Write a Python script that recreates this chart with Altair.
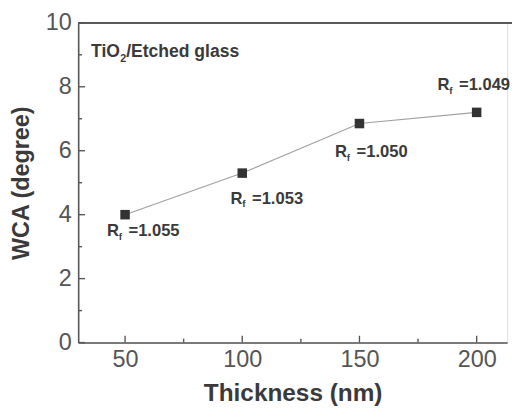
import altair as alt
import pandas as pd

# ---- data ----
thickness = [50, 100, 150, 200]
wca = [4.0, 5.3, 6.85, 7.2]
rf_values = ["=1.055", "=1.053", "=1.050", "=1.049"]
label_x = [42.3, 95.0, 139.6, 183.3]
label_y = [3.49, 4.5, 5.96, 8.04]
x_ticks = [50, 100, 150, 200]
x_minor = [75, 125, 175]
y_ticks = [0, 2, 4, 6, 8, 10]
y_minor = [1, 3, 5, 7, 9]
inset_x = [35.5]
inset_y = [9.08]

W, H = 440, 328
FONT = "Liberation Sans"
AX = "#555555"
TXT = "#3a3a3a"

df = pd.DataFrame({"t": thickness, "w": wca})
lab = pd.DataFrame({"x": label_x, "y": label_y, "v": rf_values})
inset = pd.DataFrame({"x": inset_x, "y": inset_y})

xs = alt.Scale(domain=[30, 213], nice=False, zero=False)
ys = alt.Scale(domain=[0, 10], nice=False)

xax = alt.Axis(values=x_ticks, ticks=False, grid=False, domainColor=AX, domainWidth=1.6,
               labelFont=FONT, labelFontSize=24, labelColor=AX, labelPadding=6,
               title="Thickness (nm)", titleFont=FONT, titleFontSize=25, titleFontWeight="bold",
               titleColor=TXT, titlePadding=9)
yax = alt.Axis(values=y_ticks, ticks=False, grid=False, domainColor=AX, domainWidth=1.6,
               labelFont=FONT, labelFontSize=24, labelColor=AX, labelPadding=7,
               title="WCA (degree)", titleFont=FONT, titleFontSize=24, titleFontWeight="bold",
               titleColor=TXT, titlePadding=12)

base = alt.Chart(df)
line = base.mark_line(color="#a0a0a0", strokeWidth=1.1).encode(
    x=alt.X("t:Q", scale=xs, axis=xax), y=alt.Y("w:Q", scale=ys, axis=yax))
pts = base.mark_square(color="#333333", size=95, opacity=1).encode(
    x=alt.X("t:Q", scale=xs), y=alt.Y("w:Q", scale=ys))

# inward ticks
xt = alt.Chart(pd.DataFrame({"t": x_ticks})).mark_rule(color=AX, strokeWidth=1.4).encode(
    x=alt.X("t:Q", scale=xs), y=alt.value(H), y2=alt.value(H - 7))
xm = alt.Chart(pd.DataFrame({"t": x_minor})).mark_rule(color=AX, strokeWidth=1.4).encode(
    x=alt.X("t:Q", scale=xs), y=alt.value(H), y2=alt.value(H - 4))
yt = alt.Chart(pd.DataFrame({"v": y_ticks})).mark_rule(color=AX, strokeWidth=1.4).encode(
    y=alt.Y("v:Q", scale=ys), x=alt.value(0), x2=alt.value(7))
ym = alt.Chart(pd.DataFrame({"v": y_minor})).mark_rule(color=AX, strokeWidth=1.4).encode(
    y=alt.Y("v:Q", scale=ys), x=alt.value(0), x2=alt.value(4))
top = alt.Chart(df).mark_rule(color=AX, strokeWidth=1.6).encode(
    x=alt.value(0), x2=alt.value(W + 5), y=alt.value(0))

tkw = dict(font=FONT, fontWeight="bold", color=TXT, align="left", baseline="middle")
lc = alt.Chart(lab)
r_part = lc.mark_text(fontSize=17, **tkw).encode(
    x=alt.X("x:Q", scale=xs), y=alt.Y("y:Q", scale=ys), text=alt.value("R"))
f_part = lc.mark_text(fontSize=10, dx=12, dy=6, **tkw).encode(
    x=alt.X("x:Q", scale=xs), y=alt.Y("y:Q", scale=ys), text=alt.value("f"))
v_part = lc.mark_text(fontSize=17, dx=22, **tkw).encode(
    x=alt.X("x:Q", scale=xs), y=alt.Y("y:Q", scale=ys), text="v:N")

ic = alt.Chart(inset)
i1 = ic.mark_text(fontSize=18, **tkw).encode(
    x=alt.X("x:Q", scale=xs), y=alt.Y("y:Q", scale=ys), text=alt.value("TiO"))
i2 = ic.mark_text(fontSize=11, dx=30, dy=7, **tkw).encode(
    x=alt.X("x:Q", scale=xs), y=alt.Y("y:Q", scale=ys), text=alt.value("2"))
i3 = ic.mark_text(fontSize=18, dx=36, **tkw).encode(
    x=alt.X("x:Q", scale=xs), y=alt.Y("y:Q", scale=ys), text=alt.value("/Etched glass"))

chart = alt.layer(line, pts, xt, xm, yt, ym, top, r_part, f_part, v_part, i1, i2, i3).properties(
    width=W, height=H,
    autosize=alt.AutoSizeParams(type="none"),
    padding={"left": 72, "top": 10, "right": 5, "bottom": 66},
).configure_view(stroke=None).configure(background="white")

chart.save("out.html", embed_options={"renderer": "svg", "actions": False})
